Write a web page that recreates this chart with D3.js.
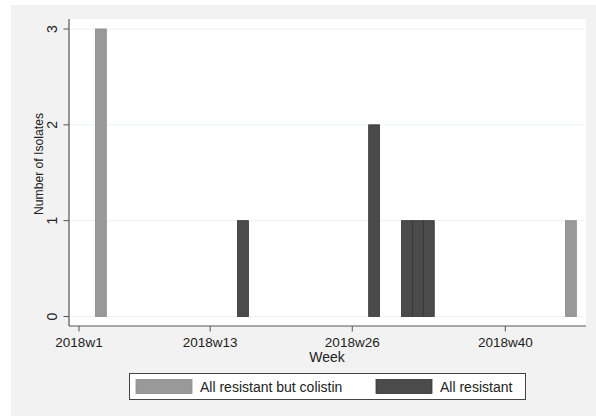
<!DOCTYPE html>
<html>
<head>
<meta charset="utf-8">
<script src="https://cdn.jsdelivr.net/npm/d3@7"></script>
<style>
  body { margin: 0; background: #fff; }
  text { font-family: "Liberation Sans", Arial, sans-serif; fill: #222; }
</style>
</head>
<body>
<svg id="chart" width="596" height="416"></svg>
<script>
// data
var weeksColistin = [3, 46],
    countsColistin = [3, 1];
var weeksAll = [16, 28, 31, 32, 33],
    countsAll = [1, 2, 1, 1, 1];
var xTicks = [1, 13, 26, 40],
    xTickLabels = ["2018w1", "2018w13", "2018w26", "2018w40"];
var yTicks = [0, 1, 2, 3];
var seriesNames = ["All resistant but colistin", "All resistant"];

var colors = ["#999999", "#4b4b4b"],
    strokes = ["#8c8c8c", "#333333"];

var svg = d3.select("#chart");

// outer graph region
svg.append("rect")
  .attr("x", 11).attr("y", 5)
  .attr("width", 585).attr("height", 411)
  .attr("fill", "#f2f2f2");

var plot = {left: 69, right: 586, top: 19, bottom: 326};

// week 1 sits at x=79, about 10.93px per week
var x = d3.scaleLinear()
  .domain([1, 40])
  .range([79, 505.3]);

var y = d3.scaleLinear()
  .domain([0, 3])
  .range([316.5, 29]);

svg.append("rect")
  .attr("x", plot.left).attr("y", plot.top)
  .attr("width", plot.right - plot.left)
  .attr("height", plot.bottom - plot.top)
  .attr("fill", "#ffffff");

// faint gridlines
svg.selectAll(".grid")
  .data(yTicks)
  .enter().append("line")
    .attr("class", "grid")
    .attr("x1", plot.left).attr("x2", plot.right)
    .attr("y1", function(d) { return y(d); })
    .attr("y2", function(d) { return y(d); })
    .attr("stroke", "#eef2f2")
    .attr("stroke-width", 1);

var bw = x(2) - x(1);

function drawBars(weeks, counts, i) {
  svg.append("g")
    .selectAll("rect")
    .data(weeks)
    .enter().append("rect")
      .attr("x", function(d) { return x(d) - bw / 2; })
      .attr("y", function(d, j) { return y(counts[j]); })
      .attr("width", bw)
      .attr("height", function(d, j) { return y(0) - y(counts[j]); })
      .attr("fill", colors[i])
      .attr("stroke", strokes[i])
      .attr("stroke-width", 0.8);
}
drawBars(weeksColistin, countsColistin, 0);
drawBars(weeksAll, countsAll, 1);

// axes lines
svg.append("line")
  .attr("x1", plot.left).attr("x2", plot.left)
  .attr("y1", plot.top).attr("y2", plot.bottom)
  .attr("stroke", "#555").attr("stroke-width", 1.2);
svg.append("line")
  .attr("x1", plot.left).attr("x2", plot.right)
  .attr("y1", plot.bottom).attr("y2", plot.bottom)
  .attr("stroke", "#555").attr("stroke-width", 1.2);

// y ticks (labels rotated like Stata)
var yt = svg.append("g");
yt.selectAll("line")
  .data(yTicks)
  .enter().append("line")
    .attr("x1", plot.left - 5.5).attr("x2", plot.left)
    .attr("y1", function(d) { return y(d); })
    .attr("y2", function(d) { return y(d); })
    .attr("stroke", "#555");
yt.selectAll("text")
  .data(yTicks)
  .enter().append("text")
    .attr("transform", function(d) { return "translate(57," + y(d) + ") rotate(-90)"; })
    .attr("text-anchor", "middle")
    .attr("font-size", "14px")
    .text(function(d) { return d; });

// x ticks
var xt = svg.append("g");
xt.selectAll("line")
  .data(xTicks)
  .enter().append("line")
    .attr("x1", function(d) { return x(d); })
    .attr("x2", function(d) { return x(d); })
    .attr("y1", plot.bottom).attr("y2", plot.bottom + 5.5)
    .attr("stroke", "#555");
xt.selectAll("text")
  .data(xTicks)
  .enter().append("text")
    .attr("x", function(d) { return x(d); })
    .attr("y", 347)
    .attr("text-anchor", "middle")
    .attr("font-size", "13.5px")
    .text(function(d, i) { return xTickLabels[i]; });

// titles
svg.append("text")
  .attr("x", 327).attr("y", 361.5)
  .attr("text-anchor", "middle")
  .attr("font-size", "14px")
  .text("Week");

svg.append("text")
  .attr("transform", "translate(43,164) rotate(-90)")
  .attr("text-anchor", "middle")
  .attr("font-size", "13.5px")
  .attr("textLength", 102)
  .attr("lengthAdjust", "spacingAndGlyphs")
  .text("Number of Isolates");

// legend
var legend = svg.append("g");
legend.append("rect")
  .attr("x", 129.5).attr("y", 373.5)
  .attr("width", 396).attr("height", 26)
  .attr("fill", "#fff")
  .attr("stroke", "#444").attr("stroke-width", 1);

var lx = [136, 376];
var items = legend.selectAll(".legend")
  .data(seriesNames)
  .enter().append("g")
    .attr("class", "legend")
    .attr("transform", function(d, i) { return "translate(" + lx[i] + ",379.5)"; });
items.append("rect")
  .attr("width", 56).attr("height", 14)
  .attr("fill", function(d, i) { return colors[i]; })
  .attr("stroke", function(d, i) { return strokes[i]; })
  .attr("stroke-width", 0.8);
items.append("text")
  .attr("x", 64).attr("y", 12.5)
  .attr("font-size", "14px")
  .text(function(d) { return d; });
</script>
</body>
</html>
